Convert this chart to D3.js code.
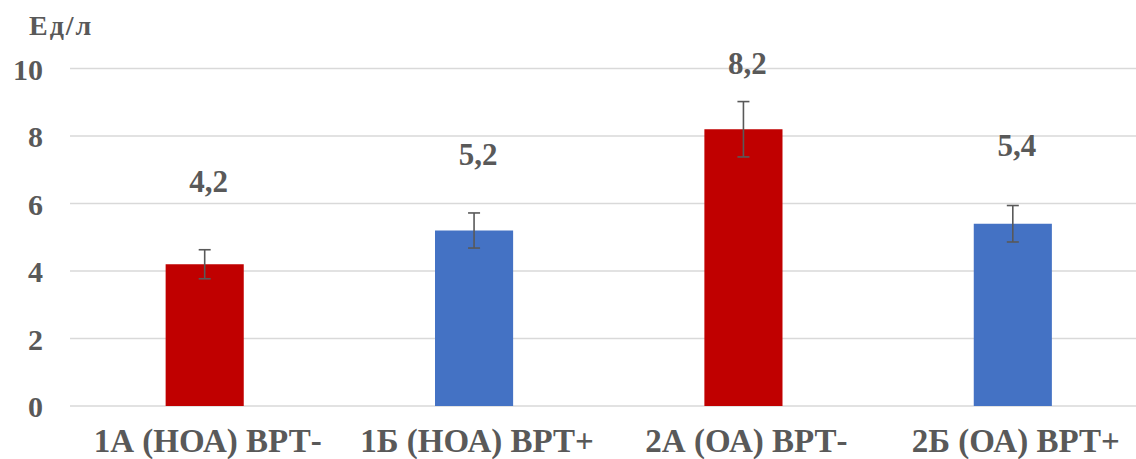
<!DOCTYPE html>
<html>
<head>
<meta charset="utf-8">
<script src="https://cdn.jsdelivr.net/npm/d3@7"></script>
<style>
  html, body { margin: 0; padding: 0; background: #fff; }
  svg { display: block; }
</style>
</head>
<body>
<svg id="chart" width="1136" height="459"></svg>
<script>
const categories = ["1А (НОА) ВРТ-", "1Б (НОА) ВРТ+", "2А (ОА) ВРТ-", "2Б (ОА) ВРТ+"];
const values = [4.2, 5.2, 8.2, 5.4];
const errors = [0.43, 0.52, 0.82, 0.54];
const valueLabels = ["4,2", "5,2", "8,2", "5,4"];
const barColors = ["#C00000", "#4472C4", "#C00000", "#4472C4"];
const yTicks = [0, 2, 4, 6, 8, 10];
const unitLabel = "Ед/л";

const FONT = "'Liberation Serif', 'Times New Roman', Times, serif";
const TEXT_COLOR = "#595959";
// distance (px) from each bar top to its value label baseline
const labelLift = [72, 66, 55, 68];

const svg = d3.select("#chart");

function styleText(sel, size) {
  sel.style("font-family", FONT)
     .style("font-weight", "700")
     .style("font-size", size + "px")
     .style("fill", TEXT_COLOR);
}

const x = d3.scaleBand()
  .domain(categories)
  .range([70, 1147.5])
  .paddingInner(0.71)
  .paddingOuter(0.355);

const y = d3.scaleLinear().domain([0, 10]).range([406, 68.5]);

// horizontal gridlines
svg.append("g")
  .selectAll("line")
  .data(yTicks)
  .join("line")
  .attr("x1", 70).attr("x2", 1136)
  .attr("y1", d => y(d)).attr("y2", d => y(d))
  .attr("stroke", "#D9D9D9")
  .attr("stroke-width", 1.5);

// y axis labels
const yAxis = d3.axisLeft(y).tickValues(yTicks).tickSize(0).tickPadding(0).tickFormat(d3.format("d"));
svg.append("g")
  .attr("transform", "translate(43,0)")
  .call(yAxis)
  .call(g => g.select(".domain").remove())
  .call(g => g.selectAll("text").attr("dy", "0.35em").call(styleText, 30));

// unit label
svg.append("text")
  .attr("x", 29).attr("y", 35)
  .style("letter-spacing", "2px")
  .text(unitLabel)
  .call(styleText, 28);

// bars
svg.append("g")
  .selectAll("rect")
  .data(values)
  .join("rect")
  .attr("x", (d, i) => x(categories[i]))
  .attr("width", x.bandwidth())
  .attr("y", d => y(d))
  .attr("height", d => y(0) - y(d))
  .attr("fill", (d, i) => barColors[i]);

// error bars
const eb = svg.append("g").attr("stroke", "#595959").attr("stroke-width", 1.6);
values.forEach((v, i) => {
  const cx = x(categories[i]) + x.bandwidth() / 2;
  const top = y(v + errors[i]);
  const bot = y(v - errors[i]);
  eb.append("line").attr("x1", cx).attr("x2", cx).attr("y1", top).attr("y2", bot);
  eb.append("line").attr("x1", cx - 6).attr("x2", cx + 6).attr("y1", top).attr("y2", top);
  eb.append("line").attr("x1", cx - 6).attr("x2", cx + 6).attr("y1", bot).attr("y2", bot);
});

// value labels
svg.append("g")
  .selectAll("text")
  .data(values)
  .join("text")
  .attr("x", (d, i) => x(categories[i]) + x.bandwidth() / 2 + 4)
  .attr("y", (d, i) => y(d) - labelLift[i])
  .attr("text-anchor", "middle")
  .text((d, i) => valueLabels[i])
  .call(styleText, 31);

// category labels
svg.append("g")
  .selectAll("text")
  .data(categories)
  .join("text")
  .attr("x", d => x(d) + x.bandwidth() / 2 + 3)
  .attr("y", 452)
  .attr("text-anchor", "middle")
  .text(d => d)
  .call(styleText, 33);
</script>
</body>
</html>
